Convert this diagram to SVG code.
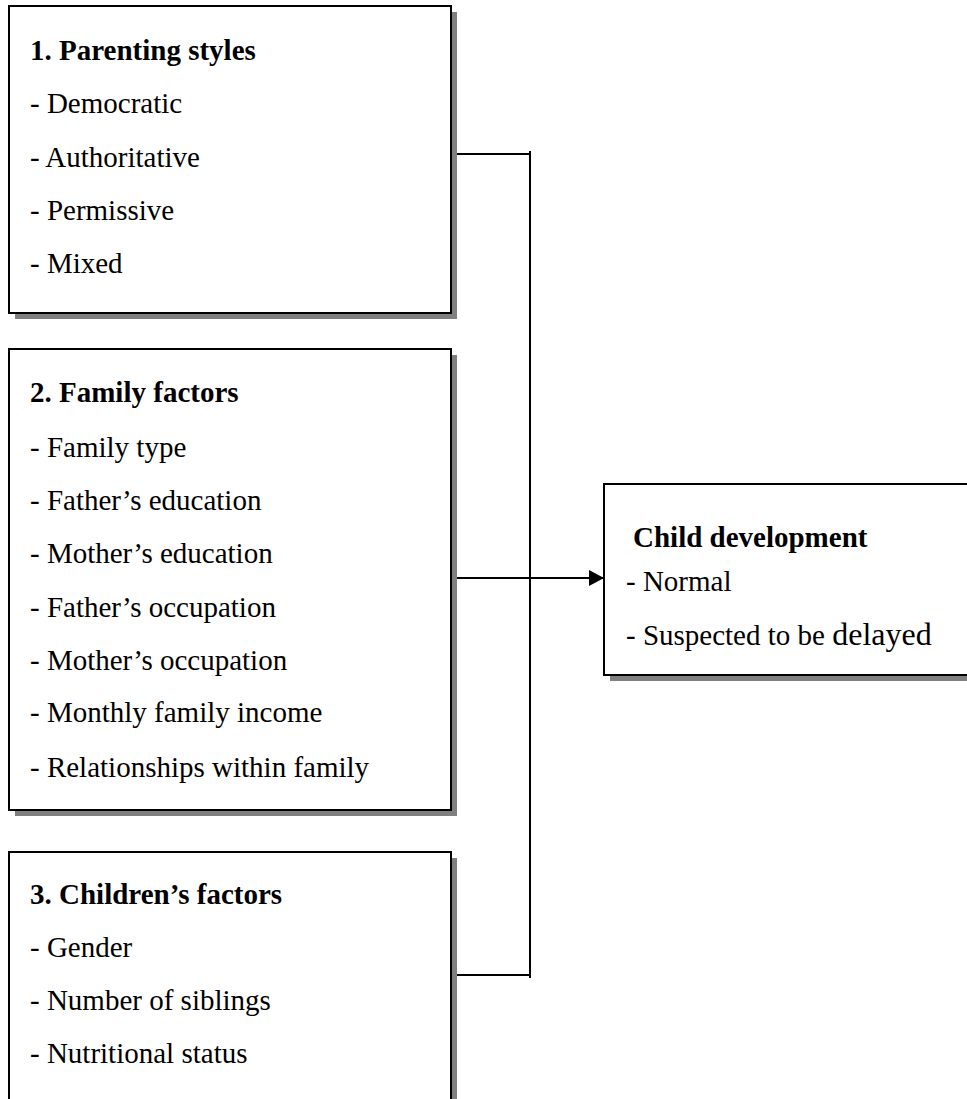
<svg xmlns="http://www.w3.org/2000/svg" width="967" height="1099" viewBox="0 0 967 1099">
<style>
.sh{fill:#808080;stroke:none}
.bx{fill:#ffffff;stroke:#000000;stroke-width:2}
text{font-family:"Liberation Serif","Times New Roman",serif;font-size:29px;fill:#000000}
.t{font-weight:bold}
.c{stroke:#000000;stroke-width:2;fill:none}
</style>
<defs>
<marker id="ah" markerUnits="userSpaceOnUse" markerWidth="16" markerHeight="18" refX="15" refY="8" orient="auto">
<path d="M0,0 L15,8 L0,16 Z" fill="#000000"/>
</marker>
</defs>
<rect width="967" height="1099" fill="#ffffff"/>
<g id="connectors">
<line class="c" x1="451" y1="154" x2="530" y2="154"/>
<line class="c" x1="530" y1="151" x2="530" y2="978"/>
<line class="c" x1="451" y1="975" x2="530" y2="975"/>
<line class="c" x1="451" y1="578" x2="604" y2="578" marker-end="url(#ah)"/>
</g>
<g id="node-parenting">
<rect class="sh" x="15" y="12" width="442" height="307"/>
<rect class="bx" x="9" y="6" width="442" height="307"/>
<text class="t" x="30" y="60">1. Parenting styles</text>
<text x="30" y="113">- Democratic</text>
<text x="30" y="167">- Authoritative</text>
<text x="30" y="220">- Permissive</text>
<text x="30" y="273">- Mixed</text>
</g>
<g id="node-family">
<rect class="sh" x="15" y="355" width="442" height="461"/>
<rect class="bx" x="9" y="349" width="442" height="461"/>
<text class="t" x="30" y="402">2. Family factors</text>
<text x="30" y="457">- Family type</text>
<text x="30" y="510">- Father’s education</text>
<text x="30" y="563">- Mother’s education</text>
<text x="30" y="617">- Father’s occupation</text>
<text x="30" y="670">- Mother’s occupation</text>
<text x="30" y="722">- Monthly family income</text>
<text x="30" y="777">- Relationships within family</text>
</g>
<g id="node-children">
<rect class="sh" x="15" y="858" width="442" height="280"/>
<rect class="bx" x="9" y="852" width="442" height="280"/>
<text class="t" x="30" y="904">3. Children’s factors</text>
<text x="30" y="957">- Gender</text>
<text x="30" y="1010">- Number of siblings</text>
<text x="30" y="1063">- Nutritional status</text>
</g>
<g id="node-child-development">
<rect class="sh" x="610" y="490" width="400" height="191"/>
<rect class="bx" x="604" y="484" width="400" height="191"/>
<text class="t" x="633" y="547">Child development</text>
<text x="626" y="591">- Normal</text>
<text x="626" y="645">- Suspected to be <tspan font-size="32">delayed</tspan></text>
</g>
</svg>
